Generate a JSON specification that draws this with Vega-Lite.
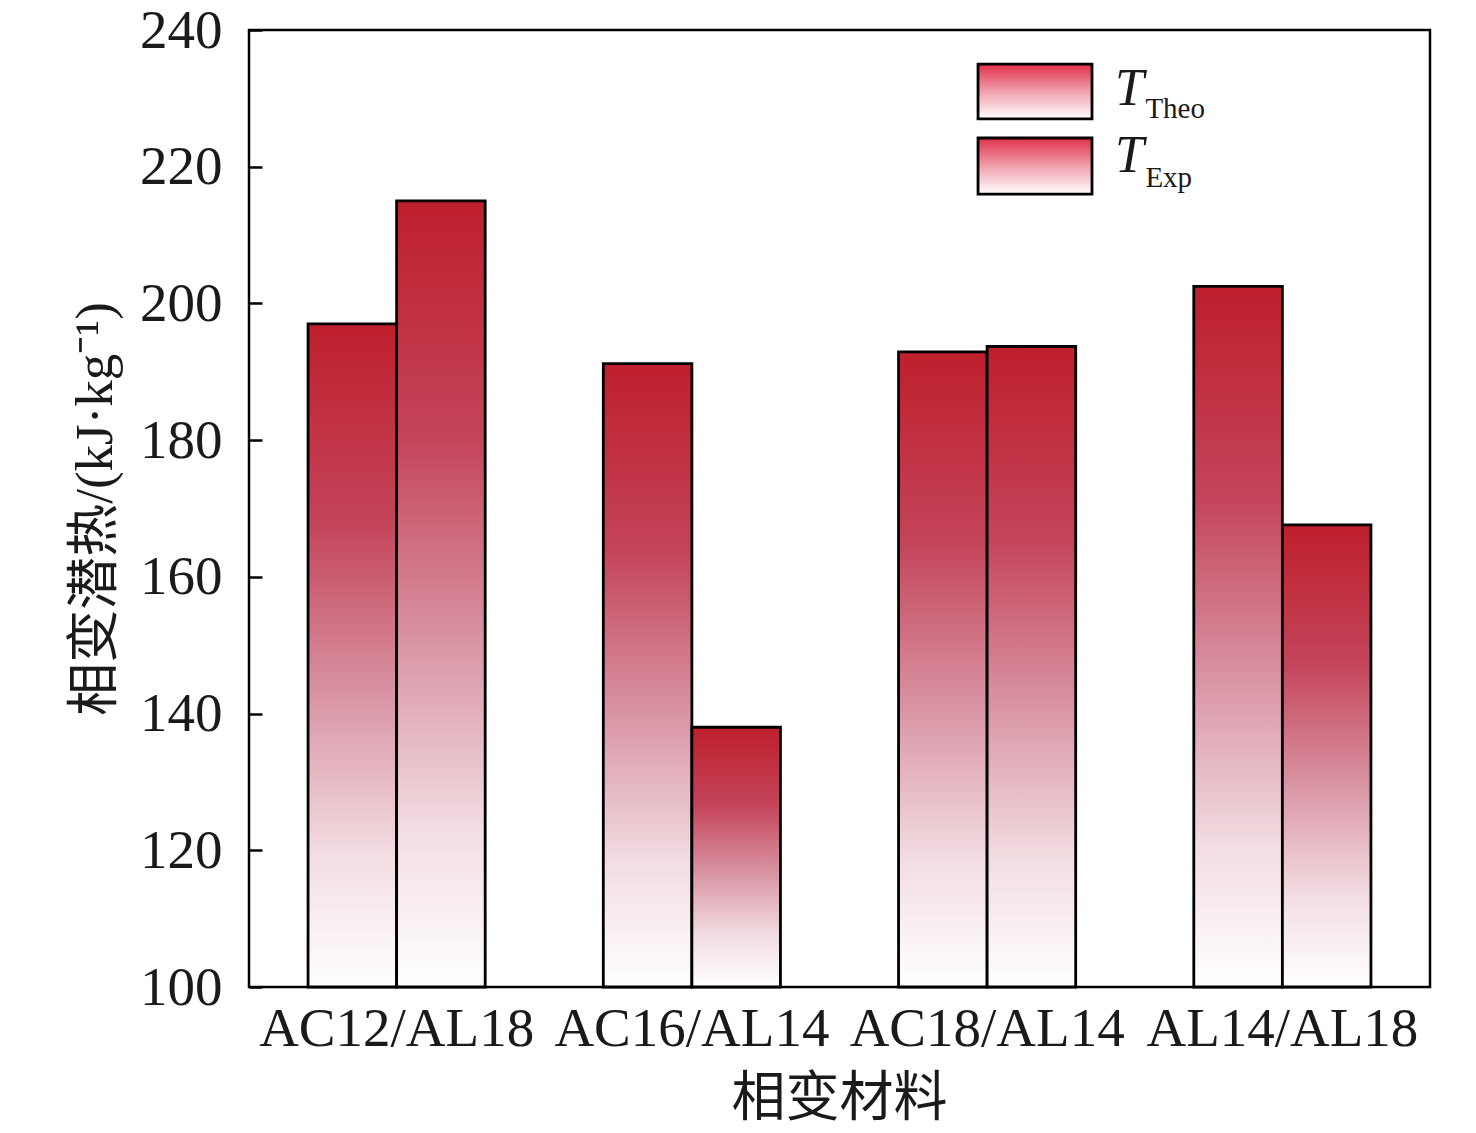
{
  "$schema": "https://vega.github.io/schema/vega-lite/v6.json",
  "description": "相变材料的理论与实验相变潜热对比柱状图",
  "width": 1181,
  "height": 957,
  "autosize": "none",
  "padding": {"left": 249, "top": 30, "right": 46, "bottom": 146},
  "background": "white",
  "datasets": {
    "heat": [
      {"material": "AC12/AL18", "series": "Theo", "value": 197.0},
      {"material": "AC12/AL18", "series": "Exp", "value": 215.0},
      {"material": "AC16/AL14", "series": "Theo", "value": 191.2},
      {"material": "AC16/AL14", "series": "Exp", "value": 138.0},
      {"material": "AC18/AL14", "series": "Theo", "value": 192.9},
      {"material": "AC18/AL14", "series": "Exp", "value": 193.7},
      {"material": "AL14/AL18", "series": "Theo", "value": 202.5},
      {"material": "AL14/AL18", "series": "Exp", "value": 167.6}
    ],
    "legendBoxes": [
      {"series": "Theo", "x1": 0.6173, "x2": 0.7138, "y1": 235.0, "y2": 227.0},
      {"series": "Exp", "x1": 0.6173, "x2": 0.7138, "y1": 224.2, "y2": 216.0}
    ],
    "legendMain": [
      {"series": "Theo", "lx": 0.7333, "ly": 229.0, "label": "T"},
      {"series": "Exp", "lx": 0.7333, "ly": 219.2, "label": "T"}
    ],
    "legendSub": [
      {"series": "Theo", "lx": 0.759, "ly": 227.1, "label": "Theo"},
      {"series": "Exp", "lx": 0.759, "ly": 217.0, "label": "Exp"}
    ]
  },
  "layer": [
    {
      "data": {"name": "heat"},
      "mark": {
        "type": "bar",
        "stroke": "black",
        "strokeWidth": 2.8,
        "fill": {
          "gradient": "linear",
          "x1": 0, "y1": 0, "x2": 0, "y2": 1,
          "stops": [
            {"offset": 0, "color": "#be1f2c"},
            {"offset": 0.3, "color": "#c4445a"},
            {"offset": 0.55, "color": "#d891a1"},
            {"offset": 0.8, "color": "#f2dde2"},
            {"offset": 1, "color": "#ffffff"}
          ]
        }
      },
      "encoding": {
        "x": {
          "field": "material",
          "type": "nominal",
          "sort": null,
          "scale": {"paddingInner": 0.4, "paddingOuter": 0.2},
          "axis": {
            "title": "相变材料",
            "titleFont": "Liberation Serif, Noto Sans CJK SC",
            "titleFontSize": 54,
            "titleFontWeight": "normal",
            "titleColor": "#1a1a1a",
            "titleX": 590,
            "titleY": 112,
            "titleBaseline": "middle",
            "labelFont": "Liberation Serif",
            "labelFontSize": 55,
            "labelColor": "#1a1a1a",
            "labelAngle": 0,
            "labelPadding": 15,
            "labelLimit": 0,
            "labelOverlap": false,
            "ticks": false,
            "domain": false
          }
        },
        "xOffset": {
          "field": "series",
          "type": "nominal",
          "sort": ["Theo", "Exp"],
          "scale": {"paddingInner": 0, "paddingOuter": 0}
        },
        "y": {
          "field": "value",
          "type": "quantitative",
          "scale": {"domain": [100, 240], "zero": false, "nice": false},
          "axis": {
            "title": "相变潜热/(kJ·kg⁻¹)",
            "titleFont": "Liberation Serif, Noto Sans CJK SC",
            "titleFontSize": 53,
            "titleFontWeight": "normal",
            "titleColor": "#1a1a1a",
            "titleX": -154,
            "titleY": 478.5,
            "titleAngle": -90,
            "titleAlign": "center",
            "titleBaseline": "middle",
            "values": [100, 120, 140, 160, 180, 200, 220, 240],
            "labelFont": "Liberation Serif",
            "labelFontSize": 55,
            "labelColor": "#1a1a1a",
            "labelPadding": 40,
            "tickSize": -13,
            "tickWidth": 2.5,
            "tickColor": "black",
            "grid": false,
            "domain": false
          }
        },
        "y2": {"datum": 100}
      }
    },
    {
      "data": {"name": "legendBoxes"},
      "mark": {
        "type": "rect",
        "stroke": "black",
        "strokeWidth": 2.8,
        "fill": {
          "gradient": "linear",
          "x1": 0, "y1": 0, "x2": 0, "y2": 1,
          "stops": [
            {"offset": 0, "color": "#e2304a"},
            {"offset": 0.5, "color": "#f0a0ad"},
            {"offset": 1, "color": "#ffffff"}
          ]
        }
      },
      "encoding": {
        "x": {"field": "x1", "type": "quantitative", "scale": {"domain": [0, 1]}, "axis": null},
        "x2": {"field": "x2"},
        "y": {"field": "y1", "type": "quantitative"},
        "y2": {"field": "y2"}
      }
    },
    {
      "data": {"name": "legendMain"},
      "mark": {
        "type": "text",
        "font": "Liberation Serif",
        "fontSize": 52,
        "fontStyle": "italic",
        "align": "left",
        "baseline": "alphabetic",
        "color": "#1a1a1a"
      },
      "encoding": {
        "x": {"field": "lx", "type": "quantitative", "scale": {"domain": [0, 1]}, "axis": null},
        "y": {"field": "ly", "type": "quantitative"},
        "text": {"field": "label"}
      }
    },
    {
      "data": {"name": "legendSub"},
      "mark": {
        "type": "text",
        "font": "Liberation Serif",
        "fontSize": 29,
        "align": "left",
        "baseline": "alphabetic",
        "color": "#1a1a1a"
      },
      "encoding": {
        "x": {"field": "lx", "type": "quantitative", "scale": {"domain": [0, 1]}, "axis": null},
        "y": {"field": "ly", "type": "quantitative"},
        "text": {"field": "label"}
      }
    }
  ],
  "resolve": {"scale": {"x": "independent"}, "axis": {"x": "independent"}},
  "config": {
    "view": {"stroke": "black", "strokeWidth": 2.5},
    "axis": {"grid": false}
  }
}
